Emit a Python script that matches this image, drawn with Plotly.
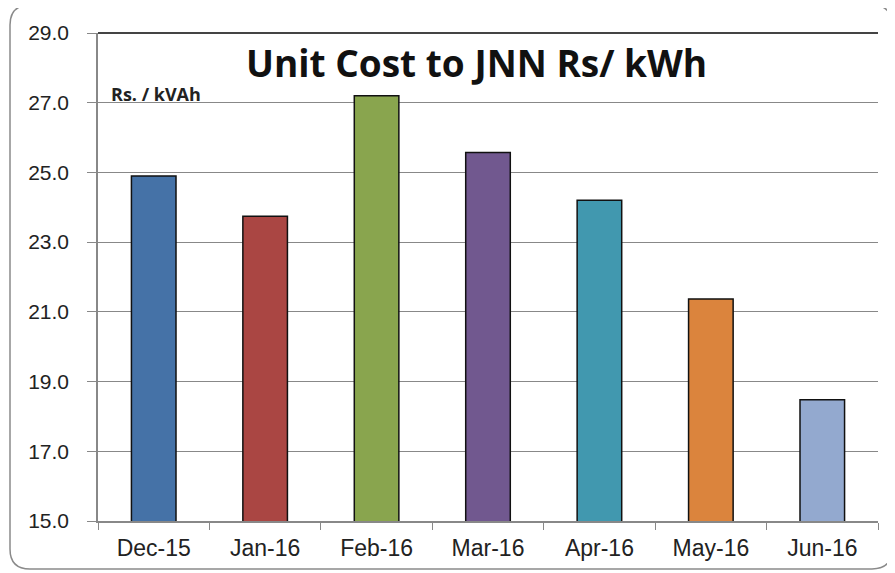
import plotly.graph_objects as go

months = ["Dec-15", "Jan-16", "Feb-16", "Mar-16", "Apr-16", "May-16", "Jun-16"]
unit_cost = [24.9, 23.74, 27.2, 25.57, 24.2, 21.37, 18.48]
bar_colors = ["#4572A7", "#AA4643", "#89A54E", "#71588F", "#4198AF", "#DB843D", "#93A9CF"]
y_ticks = [15, 17, 19, 21, 23, 25, 27, 29]
y_tick_text = ["15.0", "17.0", "19.0", "21.0", "23.0", "25.0", "27.0", "29.0"]

fig = go.Figure()
fig.add_trace(go.Bar(
    x=months, y=unit_cost, width=0.4,
    marker=dict(color=bar_colors, line=dict(color="#111111", width=1.5)),
    showlegend=False,
))

OFF = 8  # page body margin
W, H = 895 - OFF, 573 - OFF
L, T = 98 - OFF, 33 - OFF
R = W - (878 - OFF)
B = H - (521 - OFF)
pw, ph = W - L - R, H - T - B

def px(x):
    return (x - OFF - L) / pw

def py(y):
    return (H - B - (y - OFF)) / ph

x0, x1, y0, y1 = px(10), px(892), py(569), py(5)
rx, ry = 20 / pw, 20 / ph
path = (f"M {x0+rx},{y1} L {x1-rx},{y1} Q {x1},{y1} {x1},{y1-ry} "
        f"L {x1},{y0+ry} Q {x1},{y0} {x1-rx},{y0} L {x0+rx},{y0} "
        f"Q {x0},{y0} {x0},{y0+ry} L {x0},{y1-ry} Q {x0},{y1} {x0+rx},{y1} Z")

fig.update_layout(
    width=W, height=H,
    margin=dict(l=L, r=R, t=T, b=B),
    paper_bgcolor="white", plot_bgcolor="white",
    font=dict(family="Liberation Sans, Arial", color="#222222"),
    xaxis=dict(
        showline=True, linecolor="#888888", linewidth=1.5,
        ticks="outside", tickson="boundaries", ticklen=7, tickcolor="#888888",
        tickfont=dict(size=23, color="#222222"), showgrid=False,
        ticklabelstandoff=6,
    ),
    yaxis=dict(
        range=[15, 29], tickvals=y_ticks, ticktext=y_tick_text,
        showline=True, linecolor="#888888", linewidth=1.5,
        ticks="outside", ticklen=9, tickcolor="#888888",
        gridcolor="#888888", gridwidth=1.2,
        tickfont=dict(size=21, color="#222222"), zeroline=False,
        ticklabelstandoff=14,
    ),
    shapes=[
        dict(type="path", xref="paper", yref="paper", path=path,
             line=dict(color="#8a8a8a", width=1.5), layer="below"),
        dict(type="line", xref="paper", yref="paper", x0=0, x1=1, y0=1, y1=1,
             line=dict(color="#444444", width=2)),
    ],
    annotations=[
        dict(text="<b>Unit Cost to JNN Rs/ kWh</b>", xref="paper", yref="paper",
             x=px(476), y=py(62), xanchor="center", yanchor="middle", showarrow=False,
             font=dict(family="Open Sans", size=37, color="#111111")),
        dict(text="<b>Rs. / kVAh</b>", xref="paper", yref="paper",
             x=px(109), y=py(94), xanchor="left", yanchor="middle", showarrow=False,
             font=dict(family="Open Sans", size=18, color="#222222")),
    ],
)

fig.write_html("out.html")
